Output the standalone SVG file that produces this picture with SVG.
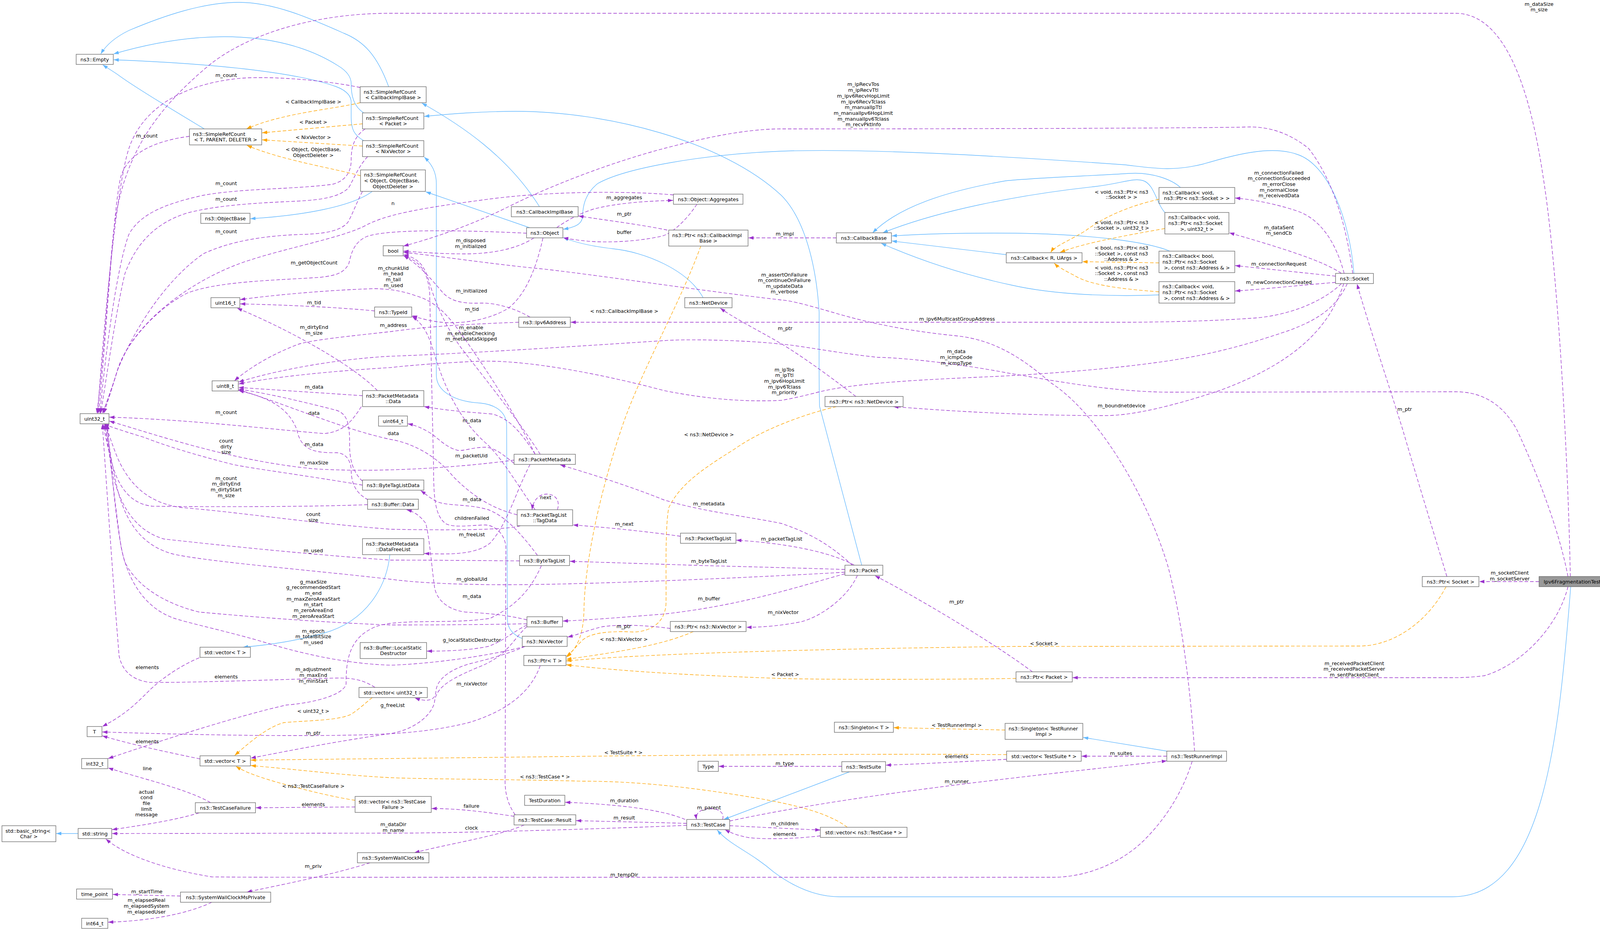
<svg xmlns="http://www.w3.org/2000/svg" width="4117" height="2381" viewBox="0 0 4117 2381">
<style>
.n rect{fill:#fff;stroke:#666;stroke-width:1.3}
.n text,.l{font-family:"DejaVu Sans","Liberation Sans",sans-serif;font-size:12.8px;fill:#000}
.n text{text-anchor:middle}
.n text.la{text-anchor:start}
.l{text-anchor:middle}
.u{fill:none;stroke:#9a32cd;stroke-width:1.35;stroke-dasharray:9,5;marker-end:url(#mu)}
.i{fill:none;stroke:#63b8ff;stroke-width:1.35;marker-end:url(#mi)}
.t{fill:none;stroke:#ffa500;stroke-width:1.35;stroke-dasharray:9,5;marker-end:url(#mt)}
</style>
<defs>
<marker id="mu" markerUnits="userSpaceOnUse" markerWidth="14" markerHeight="10" refX="13" refY="5" orient="auto" viewBox="0 0 14 10"><path d="M0,0.5 L13,5 L0,9.5 z" fill="#9a32cd"/></marker>
<marker id="mi" markerUnits="userSpaceOnUse" markerWidth="14" markerHeight="10" refX="13" refY="5" orient="auto" viewBox="0 0 14 10"><path d="M0,0.5 L13,5 L0,9.5 z" fill="#63b8ff"/></marker>
<marker id="mt" markerUnits="userSpaceOnUse" markerWidth="14" markerHeight="10" refX="13" refY="5" orient="auto" viewBox="0 0 14 10"><path d="M0,0.5 L13,5 L0,9.5 z" fill="#ffa500"/></marker>
</defs>
<rect x="0" y="0" width="4117" height="2381" fill="#fff"/>
<g id="connectors">
<!-- inheritance -->
<path class="i" d="M995,222 C965,140 930,105 880,85 C790,45 700,6 612,6 C520,6 420,40 330,78 C295,95 272,115 258,138"/>
<path class="i" d="M931,289 C905,272 899,245 899,214 C899,195 885,180 865,168 C790,120 690,94 574,94 C480,94 380,112 291,138"/>
<path class="i" d="M931,360 C906,346 899,330 899,300 L899,262 C899,242 882,230 861,222 C780,192 600,165 291,153"/>
<path class="i" d="M523,330 C440,280 340,220 300,190 C285,180 272,172 263,166"/>
<path class="i" d="M953,490 C900,530 770,552 641,560"/>
<path class="i" d="M1381,529 C1300,400 1180,320 1080,264"/>
<path class="i" d="M1356,583 L1090,491"/>
<path class="i" d="M1337,1635 C1316,1626 1299,1612 1299,1585 L1297,1090 C1297,1056 1270,1036 1230,1032 C1160,1028 1117,1000 1117,960 L1117,470 C1117,440 1105,420 1086,402"/>
<path class="i" d="M2206,1447 L2098,1040 C2096,960 2097,860 2097,800 C2090,680 2060,560 2000,500 C1850,360 1550,285 1320,285 C1230,285 1150,292 1086,298"/>
<path class="i" d="M1800,762 C1760,690 1650,645 1570,637 C1510,630 1470,620 1442,608"/>
<path class="i" d="M3466,700 C3455,560 3400,420 3320,395 C3250,370 3150,400 3080,420 C3000,440 2950,430 2880,422 C2500,395 2200,380 2000,387 C1800,395 1600,430 1530,470 C1492,500 1492,540 1491,555 C1490,575 1470,582 1442,587"/>
<path class="i" d="M3022,480 C3000,460 2950,440 2890,444 C2800,450 2650,455 2574,463 C2420,490 2300,530 2234,596"/>
<path class="i" d="M2982,544 C2960,520 2955,470 2925,462 C2900,455 2870,470 2800,478 C2600,500 2400,540 2260,596"/>
<path class="i" d="M2995,643 C2940,620 2800,600 2600,597 C2480,596 2380,598 2283,604"/>
<path class="i" d="M2576,652 L2283,617"/>
<path class="i" d="M2967,755 C2850,760 2700,755 2590,730 C2450,700 2340,660 2256,623"/>
<path class="i" d="M998,1420 C990,1500 940,1590 829,1621 C760,1640 700,1650 622,1657"/>
<path class="i" d="M200,2134 L144,2134"/>
<path class="i" d="M2175,1976 L1853,2098"/>
<path class="i" d="M4021,1502 C3990,1900 3950,2296 3718,2296 L2150,2296 C2080,2296 2020,2262 1980,2232 C1920,2180 1870,2165 1836,2125"/>
<path class="i" d="M2987,1923 L2773,1888"/>
<!-- templates -->
<path class="t" d="M922,263 C850,280 720,290 631,330"/>
<path class="t" d="M928,317 L671,340"/>
<path class="t" d="M928,374 L671,358"/>
<path class="t" d="M923,450 C850,430 720,410 632,372"/>
<path class="t" d="M1794,630 C1740,780 1640,950 1590,1100 C1530,1280 1497,1450 1495,1560 C1494,1620 1480,1660 1450,1680"/>
<path class="t" d="M2141,1041 C2060,1060 1950,1100 1880,1150 C1800,1200 1740,1240 1712,1300 C1702,1350 1706,1480 1705,1544 C1704,1590 1670,1618 1620,1618 C1560,1615 1510,1620 1490,1640 C1475,1655 1465,1668 1450,1683"/>
<path class="t" d="M1775,1617 C1700,1650 1600,1667 1450,1688"/>
<path class="t" d="M3702,1502 C3650,1600 3560,1654 3480,1654 L2600,1655 C2200,1660 1700,1670 1450,1692"/>
<path class="t" d="M2601,1737 C2400,1740 2100,1740 2000,1737 C1800,1730 1600,1720 1450,1702"/>
<path class="t" d="M953,1786 C935,1800 920,1815 900,1828 C870,1845 780,1845 727,1850 C690,1860 650,1890 601,1934"/>
<path class="t" d="M909,2049 C850,2040 770,2020 700,2000 C650,1985 625,1975 604,1962"/>
<path class="t" d="M2577,1932 C2300,1930 2000,1932 1600,1935 C1200,1940 900,1943 642,1946"/>
<path class="t" d="M2169,2118 C2120,2080 2030,2060 1947,2045 C1800,2020 1650,2000 1491,2000 C1300,1995 1100,1995 1000,1991 C880,1985 760,1970 642,1960"/>
<path class="t" d="M2573,1869 L2288,1863"/>
<path class="t" d="M2967,510 C2880,530 2820,560 2780,590 C2740,615 2700,630 2690,646"/>
<path class="t" d="M2982,585 C2900,600 2780,620 2714,646"/>
<path class="t" d="M2967,673 L2771,670"/>
<path class="t" d="M2967,747 C2870,740 2790,730 2750,705 C2720,690 2705,680 2699,674"/>
<!-- usage -->
<path class="u" d="M485,349 C400,360 330,390 310,450 C290,520 270,900 252,1058"/>
<path class="u" d="M922,224 C830,205 700,195 620,200 C450,215 360,290 330,380 C300,470 268,800 250,1058"/>
<path class="u" d="M935,330 C905,350 899,380 899,410 C899,445 880,465 850,472 C750,485 620,482 520,500 C430,520 360,545 330,600 C300,680 270,900 256,1058"/>
<path class="u" d="M941,401 C915,430 905,460 893,480 C870,505 820,512 760,515 C650,520 560,525 480,545 C400,570 350,620 320,700 C300,780 275,950 258,1058"/>
<path class="u" d="M928,490 C912,520 902,550 890,570 C870,592 830,598 780,600 C700,602 600,612 520,650 C420,720 340,850 300,950 C285,1000 270,1040 262,1058"/>
<path class="u" d="M1348,597 C1200,590 1000,585 940,605 C905,620 899,650 893,675 C880,700 860,705 820,710 C700,718 560,720 480,750 C400,790 320,880 300,950 C285,1000 268,1040 264,1058"/>
<path class="u" d="M1724,499 C1600,488 1400,490 1250,510 C1100,530 1000,545 940,575 C880,610 700,640 600,680 C450,740 330,850 300,950 C285,1000 272,1040 266,1058"/>
<path class="u" d="M4020,1476 C4015,1200 3990,700 3950,450 C3920,250 3860,34 3726,34 L1000,34 C800,34 620,90 520,180 C380,300 310,420 290,600 C275,750 262,950 248,1058"/>
<path class="u" d="M925,1041 C900,1080 880,1105 830,1110 C700,1100 500,1075 280,1068"/>
<path class="u" d="M966,1000 C900,930 720,835 607,789"/>
<path class="u" d="M928,1013 L611,992"/>
<path class="u" d="M959,796 C850,785 700,780 615,778"/>
<path class="u" d="M1370,1163 C1330,1080 1250,950 1170,840 C1140,800 1110,770 1064,757 C1030,745 1000,740 960,739 C850,742 700,755 615,767"/>
<path class="u" d="M1367,609 C1320,640 1250,650 1190,650 C1120,650 1070,645 1033,643"/>
<path class="u" d="M1357,812 C1320,790 1270,775 1230,776 C1180,778 1150,770 1130,745 C1100,710 1075,680 1033,654"/>
<path class="u" d="M1390,609 C1370,700 1340,760 1300,790 C1250,820 1180,830 1130,825 C1100,822 1075,815 1055,808"/>
<path class="u" d="M1383,1163 C1330,1080 1250,980 1180,890 C1130,820 1110,760 1095,710 C1085,680 1070,660 1033,652"/>
<path class="u" d="M3058,1923 C3050,1800 3030,1600 2990,1450 C2930,1250 2800,1050 2690,980 C2610,910 2540,870 2450,860 C2300,845 2200,820 2133,800 C2080,785 2030,770 2000,768 C1800,745 1500,700 1383,688 C1250,675 1120,655 1033,646"/>
<path class="u" d="M3463,700 C3450,600 3420,470 3350,380 C3300,340 3250,325 3200,325 C3100,328 2500,330 2000,330 C1900,330 1784,358 1700,380 C1550,420 1400,480 1300,530 C1200,580 1100,612 1033,630"/>
<path class="u" d="M3441,700 C3420,620 3380,560 3320,540 C3260,520 3200,510 3162,507"/>
<path class="u" d="M3434,700 C3390,670 3300,640 3147,596"/>
<path class="u" d="M3419,707 L3162,680"/>
<path class="u" d="M3419,723 C3330,730 3240,740 3162,745"/>
<path class="u" d="M3434,726 C3390,770 3300,810 3200,815 C3100,822 3000,824 2900,825 L1461,825"/>
<path class="u" d="M3449,726 C3420,790 3370,820 3300,846 C3200,880 3100,910 2954,929 C2800,950 2600,962 2498,966 C2300,975 2166,984 2083,1007 C2050,1015 2020,1022 2000,1025 C1900,1030 1800,1020 1700,1000 C1550,960 1350,920 1223,925 C1150,928 1050,935 1000,941 C850,950 700,965 611,983"/>
<path class="u" d="M4014,1476 C3990,1350 3930,1200 3883,1100 C3850,1040 3800,1003 3726,1003 L2995,1004 C2850,1004 2700,975 2580,955 C2450,930 2300,915 2249,915 C2150,905 2050,885 2000,881 C1900,870 1750,868 1701,872 C1500,885 1200,905 1000,912 C850,920 700,950 611,978"/>
<path class="u" d="M3940,1489 L3787,1489"/>
<path class="u" d="M3704,1476 C3660,1330 3620,1200 3591,1100 C3560,1000 3500,820 3474,727"/>
<path class="u" d="M4014,1502 C3990,1600 3900,1700 3800,1730 C3760,1735 3737,1735 3700,1735 L2746,1735"/>
<path class="u" d="M3440,726 C3400,850 3300,935 3119,1001 C3000,1040 2900,1064 2829,1064 C2600,1064 2400,1050 2287,1041"/>
<path class="u" d="M2191,1015 C2120,960 2050,910 2000,880 C1940,845 1880,815 1844,789"/>
<path class="u" d="M2182,1447 C2130,1400 2083,1368 2000,1340 C1900,1320 1800,1310 1700,1280 C1600,1240 1500,1210 1434,1190"/>
<path class="u" d="M2187,1447 C2120,1410 2000,1390 1885,1383"/>
<path class="u" d="M2163,1458 C2100,1456 2000,1453 1800,1448 C1650,1443 1550,1440 1459,1437"/>
<path class="u" d="M2163,1465 C1900,1480 1500,1497 1293,1497 C1150,1497 1050,1490 1000,1483 C800,1460 550,1440 450,1420 C360,1400 320,1330 300,1250 C285,1180 275,1120 273,1086"/>
<path class="u" d="M1357,1189 C1320,1260 1300,1340 1255,1390 C1220,1420 1150,1420 1086,1417"/>
<path class="u" d="M1370,1163 C1330,1100 1300,1070 1260,1060 C1200,1055 1150,1052 1086,1041"/>
<path class="u" d="M1316,1186 C1300,1175 1270,1145 1242,1145 C1210,1145 1190,1155 1172,1153 C1140,1145 1120,1120 1102,1109 C1080,1095 1060,1088 1044,1085"/>
<path class="u" d="M1316,1178 C1150,1200 950,1210 800,1200 C600,1180 420,1120 280,1078"/>
<path class="u" d="M928,1242 C800,1220 650,1200 600,1190 C500,1165 420,1140 370,1120 C320,1105 290,1095 266,1086"/>
<path class="u" d="M928,1232 C905,1210 895,1180 895,1140 C895,1100 895,1060 860,1050 C780,1030 700,1010 611,996"/>
<path class="u" d="M943,1280 C905,1260 899,1230 899,1200 C895,1170 880,1160 861,1159 C800,1160 770,1150 760,1100 C740,1050 700,1020 611,1000"/>
<path class="u" d="M1324,1318 C1250,1300 1200,1260 1160,1220 C1120,1170 1060,1135 1000,1125 C880,1100 720,1030 611,998"/>
<path class="u" d="M1370,1305 C1330,1250 1290,1180 1250,1140 C1180,1080 1140,1000 1110,900 C1098,860 1085,830 1055,810"/>
<path class="u" d="M1427,1305 C1435,1280 1420,1265 1400,1265 C1380,1265 1365,1280 1362,1305"/>
<path class="u" d="M1742,1373 C1650,1360 1550,1350 1467,1344"/>
<path class="u" d="M1376,1422 C1330,1360 1290,1320 1250,1305 C1200,1290 1150,1296 1120,1285 C1100,1275 1090,1265 1077,1256"/>
<path class="u" d="M1386,1448 C1350,1530 1300,1560 1255,1583 C1150,1600 1000,1580 950,1610 C890,1640 886,1700 886,1751 C880,1780 800,1800 733,1805 C600,1835 400,1900 277,1942"/>
<path class="u" d="M1349,1587 C1300,1575 1250,1570 1191,1567 C1140,1560 1115,1530 1112,1500 C1105,1450 1100,1380 1090,1340 C1075,1320 1060,1310 1041,1305"/>
<path class="u" d="M1349,1600 C1310,1620 1290,1640 1250,1655 C1200,1665 1150,1667 1093,1667"/>
<path class="u" d="M1349,1604 C1310,1640 1300,1680 1220,1710 C1150,1740 1115,1760 1112,1800 C1100,1840 1050,1870 1000,1878 C850,1900 750,1920 642,1941"/>
<path class="u" d="M1349,1597 C1200,1600 1050,1600 1000,1600 C850,1595 650,1580 510,1567 C420,1545 350,1500 320,1440 C300,1380 285,1200 275,1086"/>
<path class="u" d="M1344,1655 C1300,1675 1240,1690 1200,1700 C1150,1715 1118,1740 1116,1770 C1115,1790 1100,1800 1062,1787"/>
<path class="u" d="M1344,1655 C1250,1680 1100,1700 1000,1703 C900,1700 800,1680 702,1652 C600,1620 500,1600 446,1583 C380,1560 330,1500 310,1400 C295,1300 280,1150 270,1086"/>
<path class="u" d="M1716,1609 C1650,1600 1580,1598 1540,1605 C1500,1615 1480,1625 1453,1631"/>
<path class="u" d="M2163,1469 C2050,1500 1900,1550 1700,1572 C1600,1580 1500,1588 1441,1590"/>
<path class="u" d="M2195,1473 C2170,1530 2100,1580 2050,1592 C2000,1602 1950,1606 1911,1606"/>
<path class="u" d="M2643,1720 C2550,1650 2350,1530 2240,1474"/>
<path class="u" d="M1383,1704 C1360,1770 1300,1820 1200,1850 C1100,1875 1000,1880 900,1882 C700,1886 450,1880 262,1874"/>
<path class="u" d="M510,1684 C460,1705 410,1740 380,1770 C350,1800 320,1830 262,1860"/>
<path class="u" d="M512,1943 C450,1930 350,1910 262,1884"/>
<path class="u" d="M539,2055 C480,2020 350,1990 277,1966"/>
<path class="u" d="M510,2081 C450,2100 350,2115 287,2124"/>
<path class="u" d="M909,2066 L655,2068"/>
<path class="u" d="M1316,2090 C1250,2080 1180,2070 1105,2070"/>
<path class="u" d="M1342,2112 C1280,2140 1150,2160 1061,2183"/>
<path class="u" d="M1319,2086 C1300,2060 1293,2030 1293,2000 L1295,1400 C1293,1370 1270,1345 1242,1344 C1200,1345 1160,1352 1140,1340 C1115,1320 1110,1280 1110,1200 L1100,750 C1095,700 1080,670 1033,655"/>
<path class="u" d="M1758,2108 C1650,2105 1550,2103 1475,2101"/>
<path class="u" d="M1754,2098 C1700,2075 1600,2060 1447,2054"/>
<path class="u" d="M1758,2113 C1600,2120 1200,2133 1000,2133 L287,2134"/>
<path class="u" d="M1850,2098 C1855,2080 1840,2070 1815,2070 C1795,2072 1780,2080 1783,2098"/>
<path class="u" d="M1868,2114 C1950,2118 2030,2122 2100,2125"/>
<path class="u" d="M2100,2140 C2050,2146 1980,2150 1920,2145 C1890,2140 1870,2132 1856,2124"/>
<path class="u" d="M1868,2102 C2200,2030 2700,1980 2987,1948"/>
<path class="u" d="M2987,1936 L2769,1936"/>
<path class="u" d="M2577,1944 C2470,1950 2350,1956 2268,1959"/>
<path class="u" d="M2155,1962 L1840,1962"/>
<path class="u" d="M3052,1949 C3030,2020 2990,2090 2930,2150 C2870,2210 2780,2246 2696,2246 L1000,2246 C800,2246 600,2246 542,2245 C420,2225 320,2190 271,2148"/>
<path class="u" d="M947,2209 C850,2240 720,2265 632,2284"/>
<path class="u" d="M462,2294 L289,2290"/>
<path class="u" d="M542,2310 C480,2340 380,2358 277,2361"/>
<path class="u" d="M1425,583 C1450,565 1480,548 1520,535 C1580,520 1650,515 1723,513"/>
<path class="u" d="M1708,589 C1640,575 1560,565 1481,553"/>
<path class="u" d="M1784,523 C1760,560 1720,600 1692,605 C1640,617 1560,623 1500,617 C1470,614 1455,611 1442,609"/>
<path class="u" d="M2141,609 L1916,609"/>
<path class="u" d="M1328,825 C1200,830 1100,835 1000,849 C900,860 800,870 765,881 C700,905 640,940 600,975"/>
<path class="u" d="M960,1760 C930,1740 900,1735 860,1736 C700,1740 500,1748 383,1747 C330,1740 312,1710 305,1680 C290,1500 270,1200 262,1086"/>
<path class="u" d="M941,1292 C800,1298 500,1298 390,1296 C330,1290 300,1240 285,1180 C275,1140 268,1110 264,1086"/>
<path class="u" d="M1332,1346 C1300,1357 1150,1358 1000,1355 C800,1340 600,1310 470,1300 C380,1290 330,1240 300,1170 C288,1140 278,1110 270,1086"/>
<path class="u" d="M1330,1436 C1200,1435 1100,1434 1000,1434 C800,1420 600,1400 420,1380 C350,1360 310,1300 290,1220 C280,1160 272,1120 268,1086"/>
<!-- edge labels -->
<text class="l" x="579" y="196.5">m_count</text>
<text class="l" x="376" y="351.5">m_count</text>
<text class="l" x="802" y="264.5">&lt; CallbackImplBase &gt;</text>
<text class="l" x="802" y="316.5">&lt; Packet &gt;</text>
<text class="l" x="802" y="355.5">&lt; NixVector &gt;</text>
<text class="l" x="802" y="387">&lt; Object, ObjectBase,</text>
<text class="l" x="802" y="401.5">ObjectDeleter &gt;</text>
<text class="l" x="579" y="473.5">m_count</text>
<text class="l" x="579" y="513.5">m_count</text>
<text class="l" x="579" y="596.5">m_count</text>
<text class="l" x="1006" y="524.5">n</text>
<text class="l" x="804" y="676.5">m_getObjectCount</text>
<text class="l" x="1007" y="691">m_chunkUid</text>
<text class="l" x="1007" y="705">m_head</text>
<text class="l" x="1007" y="719.5">m_tail</text>
<text class="l" x="1007" y="734.5">m_used</text>
<text class="l" x="804" y="778.5">m_tid</text>
<text class="l" x="1007" y="836.5">m_address</text>
<text class="l" x="804" y="841.5">m_dirtyEnd</text>
<text class="l" x="804" y="856.5">m_size</text>
<text class="l" x="804" y="994.5">m_data</text>
<text class="l" x="579" y="1059.5">m_count</text>
<text class="l" x="804" y="1061.5">data</text>
<text class="l" x="1007" y="1113.5">data</text>
<text class="l" x="579" y="1132.5">count</text>
<text class="l" x="579" y="1147.5">dirty</text>
<text class="l" x="579" y="1161.5">size</text>
<text class="l" x="804" y="1141.5">m_data</text>
<text class="l" x="804" y="1188.5">m_maxSize</text>
<text class="l" x="579" y="1228.5">m_count</text>
<text class="l" x="579" y="1242.5">m_dirtyEnd</text>
<text class="l" x="579" y="1257.5">m_dirtyStart</text>
<text class="l" x="579" y="1272.5">m_size</text>
<text class="l" x="802" y="1320.5">count</text>
<text class="l" x="802" y="1335.5">size</text>
<text class="l" x="802" y="1413.5">m_used</text>
<text class="l" x="802" y="1493.5">g_maxSize</text>
<text class="l" x="802" y="1508">g_recommendedStart</text>
<text class="l" x="802" y="1522.5">m_end</text>
<text class="l" x="802" y="1537.5">m_maxZeroAreaStart</text>
<text class="l" x="802" y="1552">m_start</text>
<text class="l" x="802" y="1566.5">m_zeroAreaEnd</text>
<text class="l" x="802" y="1581.5">m_zeroAreaStart</text>
<text class="l" x="802" y="1619.5">m_epoch</text>
<text class="l" x="802" y="1633.5">m_totalBitSize</text>
<text class="l" x="802" y="1648.5">m_used</text>
<text class="l" x="377" y="1712.5">elements</text>
<text class="l" x="579" y="1736.5">elements</text>
<text class="l" x="802" y="1717.5">m_adjustment</text>
<text class="l" x="802" y="1732.5">m_maxEnd</text>
<text class="l" x="802" y="1747.5">m_minStart</text>
<text class="l" x="802" y="1824.5">&lt; uint32_t &gt;</text>
<text class="l" x="1005" y="1809.5">g_freeList</text>
<text class="l" x="802" y="1880.5">m_ptr</text>
<text class="l" x="377" y="1902.5">elements</text>
<text class="l" x="377" y="1971.5">line</text>
<text class="l" x="802" y="2016.5">&lt; ns3::TestCaseFailure &gt;</text>
<text class="l" x="375" y="2031.5">actual</text>
<text class="l" x="375" y="2046">cond</text>
<text class="l" x="375" y="2060.5">file</text>
<text class="l" x="375" y="2075.5">limit</text>
<text class="l" x="375" y="2090">message</text>
<text class="l" x="802" y="2063.5">elements</text>
<text class="l" x="1007" y="2114.5">m_dataDir</text>
<text class="l" x="1007" y="2129.5">m_name</text>
<text class="l" x="802" y="2221.5">m_priv</text>
<text class="l" x="376" y="2286.5">m_startTime</text>
<text class="l" x="375" y="2308.5">m_elapsedReal</text>
<text class="l" x="375" y="2323.5">m_elapsedSystem</text>
<text class="l" x="375" y="2338.5">m_elapsedUser</text>
<text class="l" x="1205" y="619.5">m_disposed</text>
<text class="l" x="1205" y="634.5">m_initialized</text>
<text class="l" x="1207" y="748.5">m_initialized</text>
<text class="l" x="1208" y="795.5">m_tid</text>
<text class="l" x="1206" y="842.5">m_enable</text>
<text class="l" x="1206" y="857.5">m_enableChecking</text>
<text class="l" x="1206" y="871.5">m_metadataSkipped</text>
<text class="l" x="1208" y="1080.5">m_data</text>
<text class="l" x="1208" y="1127.5">tid</text>
<text class="l" x="1207" y="1170.5">m_packetUid</text>
<text class="l" x="1208" y="1282.5">m_data</text>
<text class="l" x="1208" y="1330.5">childrenFailed</text>
<text class="l" x="1208" y="1372.5">m_freeList</text>
<text class="l" x="1208" y="1486.5">m_globalUid</text>
<text class="l" x="1208" y="1530.5">m_data</text>
<text class="l" x="1208" y="1642.5">g_localStaticDestructor</text>
<text class="l" x="1208" y="1754.5">m_nixVector</text>
<text class="l" x="1207" y="2067.5">failure</text>
<text class="l" x="1207" y="2123.5">clock</text>
<text class="l" x="1397" y="1277.5">next</text>
<text class="l" x="1598" y="509.5">m_aggregates</text>
<text class="l" x="1598" y="551.5">m_ptr</text>
<text class="l" x="1598" y="598.5">buffer</text>
<text class="l" x="1598" y="800.5">&lt; ns3::CallbackImplBase &gt;</text>
<text class="l" x="1598" y="1345.5">m_next</text>
<text class="l" x="1597" y="1607.5">m_ptr</text>
<text class="l" x="1597" y="1640.5">&lt; ns3::NixVector &gt;</text>
<text class="l" x="1596" y="1930.5">&lt; TestSuite * &gt;</text>
<text class="l" x="1395" y="1992.5">&lt; ns3::TestCase * &gt;</text>
<text class="l" x="1598" y="2053.5">m_duration</text>
<text class="l" x="1598" y="2097.5">m_result</text>
<text class="l" x="1598" y="2243.5">m_tempDir</text>
<text class="l" x="1815" y="1116.5">&lt; ns3::NetDevice &gt;</text>
<text class="l" x="1815" y="1293.5">m_metadata</text>
<text class="l" x="1815" y="1440.5">m_byteTagList</text>
<text class="l" x="1815" y="1536.5">m_buffer</text>
<text class="l" x="1815" y="2071.5">m_parent</text>
<text class="l" x="2001" y="1383.5">m_packetTagList</text>
<text class="l" x="2005" y="1571.5">m_nixVector</text>
<text class="l" x="2010" y="1730.5">&lt; Packet &gt;</text>
<text class="l" x="2009" y="602.5">m_impl</text>
<text class="l" x="2010" y="844.5">m_ptr</text>
<text class="l" x="2008" y="950.5">m_ipTos</text>
<text class="l" x="2008" y="964.5">m_ipTtl</text>
<text class="l" x="2008" y="979.5">m_ipv6HopLimit</text>
<text class="l" x="2008" y="994.5">m_ipv6Tclass</text>
<text class="l" x="2008" y="1008.5">m_priority</text>
<text class="l" x="2008" y="707.5">m_assertOnFailure</text>
<text class="l" x="2008" y="721.5">m_continueOnFailure</text>
<text class="l" x="2008" y="736.5">m_updateData</text>
<text class="l" x="2008" y="750.5">m_verbose</text>
<text class="l" x="2009" y="1958.5">m_type</text>
<text class="l" x="2009" y="2112.5">m_children</text>
<text class="l" x="2009" y="2139.5">elements</text>
<text class="l" x="2210" y="220">m_ipRecvTos</text>
<text class="l" x="2210" y="235">m_ipRecvTtl</text>
<text class="l" x="2210" y="249.5">m_ipv6RecvHopLimit</text>
<text class="l" x="2210" y="264.5">m_ipv6RecvTclass</text>
<text class="l" x="2210" y="279">m_manualIpTtl</text>
<text class="l" x="2210" y="293.5">m_manualIpv6HopLimit</text>
<text class="l" x="2210" y="308.5">m_manualIpv6Tclass</text>
<text class="l" x="2210" y="323">m_recvPktInfo</text>
<text class="l" x="2448" y="903.5">m_data</text>
<text class="l" x="2448" y="918.5">m_icmpCode</text>
<text class="l" x="2448" y="933.5">m_icmpType</text>
<text class="l" x="2450" y="820.5">m_ipv6MulticastGroupAddress</text>
<text class="l" x="2449" y="1544.5">m_ptr</text>
<text class="l" x="2673" y="1651.5">&lt; Socket &gt;</text>
<text class="l" x="2449" y="1860.5">&lt; TestRunnerImpl &gt;</text>
<text class="l" x="2449" y="1940.5">elements</text>
<text class="l" x="2449" y="2004.5">m_runner</text>
<text class="l" x="2871" y="1042.5">m_boundnetdevice</text>
<text class="l" x="2870" y="1932.5">m_suites</text>
<text class="l" x="2871" y="495.5">&lt; void, ns3::Ptr&lt; ns3</text>
<text class="l" x="2871" y="509">::Socket &gt; &gt;</text>
<text class="l" x="2871" y="573.5">&lt; void, ns3::Ptr&lt; ns3</text>
<text class="l" x="2871" y="587.5">::Socket &gt;, uint32_t &gt;</text>
<text class="l" x="2871" y="638.5">&lt; bool, ns3::Ptr&lt; ns3</text>
<text class="l" x="2871" y="653.5">::Socket &gt;, const ns3</text>
<text class="l" x="2871" y="667.5">::Address &amp; &gt;</text>
<text class="l" x="2871" y="689.5">&lt; void, ns3::Ptr&lt; ns3</text>
<text class="l" x="2871" y="703.5">::Socket &gt;, const ns3</text>
<text class="l" x="2871" y="718.5">::Address &amp; &gt;</text>
<text class="l" x="3274" y="446.5">m_connectionFailed</text>
<text class="l" x="3274" y="460.5">m_connectionSucceeded</text>
<text class="l" x="3274" y="475.5">m_errorClose</text>
<text class="l" x="3274" y="490.5">m_normalClose</text>
<text class="l" x="3274" y="504.5">m_receivedData</text>
<text class="l" x="3274" y="586.5">m_dataSent</text>
<text class="l" x="3274" y="600.5">m_sendCb</text>
<text class="l" x="3274" y="679.5">m_connectionRequest</text>
<text class="l" x="3274" y="726.5">m_newConnectionCreated</text>
<text class="l" x="3467" y="1702.5">m_receivedPacketClient</text>
<text class="l" x="3467" y="1716.5">m_receivedPacketServer</text>
<text class="l" x="3467" y="1731.5">m_sentPacketClient</text>
<text class="l" x="3596" y="1051.5">m_ptr</text>
<text class="l" x="3865" y="1470.5">m_socketClient</text>
<text class="l" x="3865" y="1485.5">m_socketServer</text>
<text class="l" x="3940" y="14.5">m_dataSize</text>
<text class="l" x="3940" y="28.5">m_size</text>
</g>
<g id="nodes">
<g id="n-empty" class="n"><rect x="195" y="139" width="95" height="26"/><text x="242.5" y="156.6">ns3::Empty</text></g>
<g id="n-src-tpd" class="n"><rect x="485" y="330" width="185" height="41"/><text class="la" x="494" y="347.6">ns3::SimpleRefCount</text><text x="577.5" y="362.3">&lt; T, PARENT, DELETER &gt;</text></g>
<g id="n-objectbase" class="n"><rect x="514" y="546" width="126" height="26"/><text x="577" y="563.6">ns3::ObjectBase</text></g>
<g id="n-uint32" class="n"><rect x="205" y="1059" width="74" height="26"/><text x="242" y="1076.6">uint32_t</text></g>
<g id="n-uint16" class="n"><rect x="540" y="762" width="74" height="26"/><text x="577" y="779.6">uint16_t</text></g>
<g id="n-uint8" class="n"><rect x="543" y="975" width="67" height="26"/><text x="576.5" y="992.6">uint8_t</text></g>
<g id="n-vect-up" class="n"><rect x="512" y="1657" width="129" height="26"/><text x="576.5" y="1674.6">std::vector&lt; T &gt;</text></g>
<g id="n-t" class="n"><rect x="223" y="1860" width="38" height="26"/><text x="242" y="1877.6">T</text></g>
<g id="n-int32" class="n"><rect x="209" y="1942" width="67" height="26"/><text x="242.5" y="1959.6">int32_t</text></g>
<g id="n-vect-low" class="n"><rect x="512" y="1935" width="129" height="26"/><text x="576.5" y="1952.6">std::vector&lt; T &gt;</text></g>
<g id="n-tcf" class="n"><rect x="500" y="2055" width="154" height="26"/><text x="577" y="2072.6">ns3::TestCaseFailure</text></g>
<g id="n-basicstring" class="n"><rect x="5" y="2114" width="138" height="41"/><text class="la" x="14" y="2131.6">std::basic_string&lt;</text><text x="74" y="2146.3">Char &gt;</text></g>
<g id="n-string" class="n"><rect x="200" y="2121" width="86" height="26"/><text x="243" y="2138.6">std::string</text></g>
<g id="n-timepoint" class="n"><rect x="196" y="2276" width="92" height="26"/><text x="242" y="2293.6">time_point</text></g>
<g id="n-swcmp" class="n"><rect x="462" y="2284" width="231" height="26"/><text x="577.5" y="2301.6">ns3::SystemWallClockMsPrivate</text></g>
<g id="n-int64" class="n"><rect x="209" y="2351" width="67" height="26"/><text x="242.5" y="2368.6">int64_t</text></g>
<g id="n-src-cib" class="n"><rect x="922" y="222" width="169" height="41"/><text class="la" x="931" y="239.6">ns3::SimpleRefCount</text><text x="1006.5" y="254.3">&lt; CallbackImplBase &gt;</text></g>
<g id="n-src-packet" class="n"><rect x="928" y="289" width="157" height="41"/><text class="la" x="937" y="306.6">ns3::SimpleRefCount</text><text x="1006.5" y="321.3">&lt; Packet &gt;</text></g>
<g id="n-src-nix" class="n"><rect x="928" y="360" width="157" height="41"/><text class="la" x="937" y="377.6">ns3::SimpleRefCount</text><text x="1006.5" y="392.3">&lt; NixVector &gt;</text></g>
<g id="n-src-obj" class="n"><rect x="923" y="435" width="166" height="55"/><text class="la" x="932" y="452.3">ns3::SimpleRefCount</text><text class="la" x="932" y="467">&lt; Object, ObjectBase,</text><text x="1006" y="481.7">ObjectDeleter &gt;</text></g>
<g id="n-bool" class="n"><rect x="981" y="629" width="51" height="26"/><text x="1006.5" y="646.6">bool</text></g>
<g id="n-typeid" class="n"><rect x="959" y="786" width="95" height="26"/><text x="1006.5" y="803.6">ns3::TypeId</text></g>
<g id="n-pmdata" class="n"><rect x="928" y="1000" width="157" height="41"/><text class="la" x="937" y="1017.6">ns3::PacketMetadata</text><text x="1006.5" y="1032.3">::Data</text></g>
<g id="n-uint64" class="n"><rect x="969" y="1065" width="74" height="26"/><text x="1006" y="1082.6">uint64_t</text></g>
<g id="n-btldata" class="n"><rect x="928" y="1229" width="157" height="26"/><text x="1006.5" y="1246.6">ns3::ByteTagListData</text></g>
<g id="n-bufferdata" class="n"><rect x="941" y="1278" width="130" height="26"/><text x="1006" y="1295.6">ns3::Buffer::Data</text></g>
<g id="n-pmfreelist" class="n"><rect x="928" y="1379" width="157" height="41"/><text class="la" x="937" y="1396.6">ns3::PacketMetadata</text><text x="1006.5" y="1411.3">::DataFreeList</text></g>
<g id="n-localstatic" class="n"><rect x="922" y="1645" width="170" height="41"/><text class="la" x="931" y="1662.6">ns3::Buffer::LocalStatic</text><text x="1007" y="1677.3">Destructor</text></g>
<g id="n-vecu32" class="n"><rect x="919" y="1760" width="175" height="26"/><text x="1006.5" y="1777.6">std::vector&lt; uint32_t &gt;</text></g>
<g id="n-vectcf" class="n"><rect x="909" y="2039" width="195" height="41"/><text class="la" x="918" y="2056.6">std::vector&lt; ns3::TestCase</text><text x="1006.5" y="2071.3">Failure &gt;</text></g>
<g id="n-swcm" class="n"><rect x="915" y="2183" width="183" height="26"/><text x="1006.5" y="2200.6">ns3::SystemWallClockMs</text></g>
<g id="n-cib" class="n"><rect x="1309" y="529" width="171" height="26"/><text x="1394.5" y="546.6">ns3::CallbackImplBase</text></g>
<g id="n-object" class="n"><rect x="1348" y="583" width="93" height="26"/><text x="1394.5" y="600.6">ns3::Object</text></g>
<g id="n-ipv6address" class="n"><rect x="1328" y="812" width="132" height="26"/><text x="1394" y="829.6">ns3::Ipv6Address</text></g>
<g id="n-packetmetadata" class="n"><rect x="1316" y="1163" width="157" height="26"/><text x="1394.5" y="1180.6">ns3::PacketMetadata</text></g>
<g id="n-tagdata" class="n"><rect x="1324" y="1305" width="142" height="41"/><text class="la" x="1333" y="1322.6">ns3::PacketTagList</text><text x="1395" y="1337.3">::TagData</text></g>
<g id="n-bytetaglist" class="n"><rect x="1330" y="1422" width="128" height="26"/><text x="1394" y="1439.6">ns3::ByteTagList</text></g>
<g id="n-buffer" class="n"><rect x="1349" y="1579" width="91" height="26"/><text x="1394.5" y="1596.6">ns3::Buffer</text></g>
<g id="n-nixvector" class="n"><rect x="1337" y="1629" width="115" height="26"/><text x="1394.5" y="1646.6">ns3::NixVector</text></g>
<g id="n-ptrt" class="n"><rect x="1341" y="1678" width="108" height="26"/><text x="1395" y="1695.6">ns3::Ptr&lt; T &gt;</text></g>
<g id="n-testduration" class="n"><rect x="1343" y="2036" width="103" height="26"/><text x="1394.5" y="2053.6">TestDuration</text></g>
<g id="n-result" class="n"><rect x="1316" y="2086" width="158" height="26"/><text x="1395" y="2103.6">ns3::TestCase::Result</text></g>
<g id="n-aggregates" class="n"><rect x="1724" y="497" width="178" height="26"/><text x="1813" y="514.6">ns3::Object::Aggregates</text></g>
<g id="n-ptrcib" class="n"><rect x="1712" y="589" width="203" height="41"/><text class="la" x="1721" y="606.6">ns3::Ptr&lt; ns3::CallbackImpl</text><text x="1813.5" y="621.3">Base &gt;</text></g>
<g id="n-netdevice" class="n"><rect x="1753" y="762" width="121" height="26"/><text x="1813.5" y="779.6">ns3::NetDevice</text></g>
<g id="n-packettaglist" class="n"><rect x="1742" y="1365" width="142" height="26"/><text x="1813" y="1382.6">ns3::PacketTagList</text></g>
<g id="n-ptrnix" class="n"><rect x="1716" y="1591" width="194" height="26"/><text x="1813" y="1608.6">ns3::Ptr&lt; ns3::NixVector &gt;</text></g>
<g id="n-type" class="n"><rect x="1787" y="1949" width="52" height="26"/><text x="1813" y="1966.6">Type</text></g>
<g id="n-testcase" class="n"><rect x="1758" y="2098" width="110" height="26"/><text x="1813" y="2115.6">ns3::TestCase</text></g>
<g id="n-callbackbase" class="n"><rect x="2141" y="596" width="141" height="26"/><text x="2211.5" y="613.6">ns3::CallbackBase</text></g>
<g id="n-ptrnetdevice" class="n"><rect x="2112" y="1015" width="200" height="26"/><text x="2212" y="1032.6">ns3::Ptr&lt; ns3::NetDevice &gt;</text></g>
<g id="n-packet" class="n"><rect x="2163" y="1447" width="97" height="26"/><text x="2211.5" y="1464.6">ns3::Packet</text></g>
<g id="n-singletont" class="n"><rect x="2136" y="1849" width="151" height="26"/><text x="2211.5" y="1866.6">ns3::Singleton&lt; T &gt;</text></g>
<g id="n-testsuite" class="n"><rect x="2155" y="1950" width="112" height="26"/><text x="2211" y="1967.6">ns3::TestSuite</text></g>
<g id="n-vectc" class="n"><rect x="2100" y="2118" width="222" height="26"/><text x="2211" y="2135.6">std::vector&lt; ns3::TestCase * &gt;</text></g>
<g id="n-callbackru" class="n"><rect x="2576" y="647" width="194" height="26"/><text x="2673" y="664.6">ns3::Callback&lt; R, UArgs &gt;</text></g>
<g id="n-ptrpacket" class="n"><rect x="2601" y="1720" width="144" height="26"/><text x="2673" y="1737.6">ns3::Ptr&lt; Packet &gt;</text></g>
<g id="n-singletontri" class="n"><rect x="2573" y="1852" width="199" height="41"/><text class="la" x="2582" y="1869.6">ns3::Singleton&lt; TestRunner</text><text x="2672.5" y="1884.3">Impl &gt;</text></g>
<g id="n-vects" class="n"><rect x="2577" y="1923" width="191" height="26"/><text x="2672.5" y="1940.6">std::vector&lt; TestSuite * &gt;</text></g>
<g id="n-cb1" class="n"><rect x="2967" y="480" width="194" height="41"/><text class="la" x="2976" y="497.6">ns3::Callback&lt; void,</text><text x="3064" y="512.3">ns3::Ptr&lt; ns3::Socket &gt; &gt;</text></g>
<g id="n-cb2" class="n"><rect x="2982" y="544" width="164" height="55"/><text class="la" x="2991" y="561.3">ns3::Callback&lt; void,</text><text class="la" x="2991" y="576">ns3::Ptr&lt; ns3::Socket</text><text x="3064" y="590.7">&gt;, uint32_t &gt;</text></g>
<g id="n-cb3" class="n"><rect x="2967" y="643" width="194" height="55"/><text class="la" x="2976" y="660.3">ns3::Callback&lt; bool,</text><text class="la" x="2976" y="675">ns3::Ptr&lt; ns3::Socket</text><text x="3064" y="689.7">&gt;, const ns3::Address &amp; &gt;</text></g>
<g id="n-cb4" class="n"><rect x="2967" y="721" width="194" height="55"/><text class="la" x="2976" y="738.3">ns3::Callback&lt; void,</text><text class="la" x="2976" y="753">ns3::Ptr&lt; ns3::Socket</text><text x="3064" y="767.7">&gt;, const ns3::Address &amp; &gt;</text></g>
<g id="n-testrunnerimpl" class="n"><rect x="2987" y="1923" width="153" height="26"/><text x="3063.5" y="1940.6">ns3::TestRunnerImpl</text></g>
<g id="n-socket" class="n"><rect x="3419" y="700" width="97" height="26"/><text x="3467.5" y="717.6">ns3::Socket</text></g>
<g id="n-ptrsocket" class="n"><rect x="3641" y="1476" width="145" height="26"/><text x="3713.5" y="1493.6">ns3::Ptr&lt; Socket &gt;</text></g>
<g id="n-ipv6fragtest" class="n"><rect x="3940" y="1476" width="170" height="26" style="fill:#999"/><text x="4025" y="1493.6">Ipv6FragmentationTest</text></g>
</g>
</svg>
